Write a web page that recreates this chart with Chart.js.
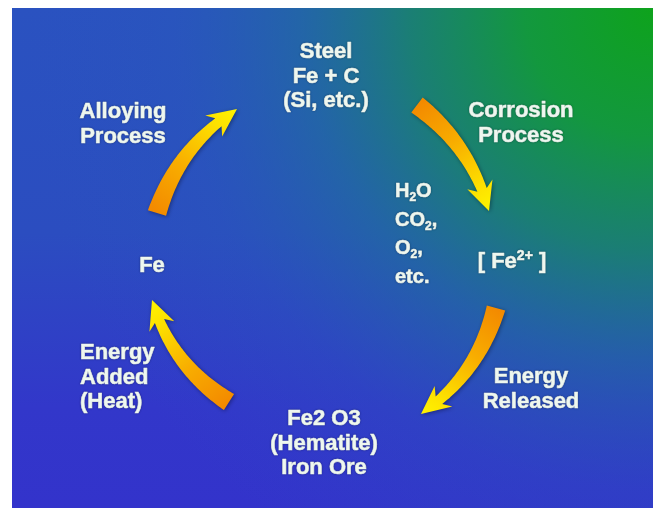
<!DOCTYPE html>
<html>
<head>
<meta charset="utf-8">
<script src="https://cdn.jsdelivr.net/npm/chart.js@4.4.1/dist/chart.umd.min.js"></script>
<style>
  html, body { margin: 0; padding: 0; background: #fff; }
  #cycle { display: block; }
</style>
</head>
<body>
<canvas id="cycle" width="656" height="510"></canvas>
<script>
// stages of the iron cycle, _x = subscript, ^{..} = superscript
const labelLines = [
    ['Steel', 'Fe + C', '(Si, etc.)'],
    ['Alloying', 'Process'],
    ['Corrosion', 'Process'],
    ['Fe'],
    ['[ Fe^{2+} ]'],
    ['Energy', 'Added', '(Heat)'],
    ['Energy', 'Released'],
    ['Fe2 O3', '(Hematite)', 'Iron Ore'],
    ['H_2O', 'CO_2,', 'O_2,', 'etc.']
];
// anchor of each label (x, baseline of first line) in picture units
const labelX = [326, 123, 521, 152, 512, 80, 531, 324, 395];
const labelY = [58, 118, 117, 272, 268, 359, 383, 425, 197];

// the four curved arrows: tail -> tip, plus how far the arc bulges out
const arrowTailX = [157, 417, 496, 229];
const arrowTailY = [213, 105, 308, 402];
const arrowTipX = [237, 489, 421, 152];
const arrowTipY = [109, 211, 414, 300];
const arrowBulge = [12, 11, 12, 12];

// coloured panel: left, top, right, bottom
const panelBox = [12, 8, 653, 508];

const leftAligned = [5, 8];   // label indexes drawn from the left edge
const listIndex = 8;          // the H2O / CO2 list uses a smaller face

function parseRich(str) {
    const parts = str.split(/(_\{[^}]*\}|_.|\^\{[^}]*\}|\^.)/).filter(s => s.length);
    return parts.map(p => {
        if (p[0] === '_') return { t: p.replace(/^_\{?|\}$/g, ''), mode: 'sub' };
        if (p[0] === '^') return { t: p.replace(/^\^\{?|\}$/g, ''), mode: 'sup' };
        return { t: p, mode: 'n' };
    });
}

function drawRich(ctx, str, x, y, size, align) {
    const segs = parseRich(str);
    const small = Math.round(size * 0.62);
    let total = 0;
    segs.forEach(s => {
        ctx.font = 'bold ' + (s.mode === 'n' ? size : small) + 'px "Liberation Sans", Arial, sans-serif';
        s.w = ctx.measureText(s.t).width;
        total += s.w;
    });
    let cx = align === 'left' ? x : x - total / 2;
    segs.forEach(s => {
        ctx.font = 'bold ' + (s.mode === 'n' ? size : small) + 'px "Liberation Sans", Arial, sans-serif';
        let dy = 0;
        if (s.mode === 'sub') dy = size * 0.22;
        if (s.mode === 'sup') dy = -size * 0.38;
        ctx.strokeText(s.t, cx, y + dy);
        ctx.fillText(s.t, cx, y + dy);
        cx += s.w;
    });
}

function drawArrow(ctx, p0, c, p2) {
    const N = 60;
    const pts = [];
    let len = 0;
    for (let i = 0; i <= N; i++) {
        const t = i / N;
        const x = (1 - t) * (1 - t) * p0.x + 2 * (1 - t) * t * c.x + t * t * p2.x;
        const y = (1 - t) * (1 - t) * p0.y + 2 * (1 - t) * t * c.y + t * t * p2.y;
        const tx = 2 * (1 - t) * (c.x - p0.x) + 2 * t * (p2.x - c.x);
        const ty = 2 * (1 - t) * (c.y - p0.y) + 2 * t * (p2.y - c.y);
        const tl = Math.hypot(tx, ty);
        if (i > 0) len += Math.hypot(x - pts[i - 1].x, y - pts[i - 1].y);
        pts.push({ x, y, ux: tx / tl, uy: ty / tl, s: len });
    }
    const headLen = 22, headW = 27, tailW = 19, neckW = 10;
    const bodyEnd = len - headLen;
    const body = pts.filter(p => p.s <= bodyEnd);
    const left = [], right = [];
    body.forEach(p => {
        const w = (tailW + (neckW - tailW) * (p.s / bodyEnd)) / 2;
        left.push([p.x - p.uy * w, p.y + p.ux * w]);
        right.push([p.x + p.uy * w, p.y - p.ux * w]);
    });
    const b = body[body.length - 1];
    const notch = 6;
    const barbL = [b.x - b.uy * headW / 2 - b.ux * notch, b.y + b.ux * headW / 2 - b.uy * notch];
    const barbR = [b.x + b.uy * headW / 2 - b.ux * notch, b.y - b.ux * headW / 2 - b.uy * notch];

    const grad = ctx.createLinearGradient(p0.x, p0.y, p2.x, p2.y);
    grad.addColorStop(0, '#f38a00');
    grad.addColorStop(0.4, '#f8ad00');
    grad.addColorStop(0.8, '#fde000');
    grad.addColorStop(1, '#fff400');

    ctx.save();
    ctx.shadowColor = 'rgba(0, 0, 20, 0.4)';
    ctx.shadowBlur = 4;
    ctx.shadowOffsetX = 1;
    ctx.shadowOffsetY = 1;
    ctx.beginPath();
    ctx.moveTo(left[0][0], left[0][1]);
    left.forEach(q => ctx.lineTo(q[0], q[1]));
    ctx.lineTo(barbL[0], barbL[1]);
    ctx.lineTo(p2.x, p2.y);
    ctx.lineTo(barbR[0], barbR[1]);
    for (let i = right.length - 1; i >= 0; i--) ctx.lineTo(right[i][0], right[i][1]);
    ctx.closePath();
    ctx.fillStyle = grad;
    ctx.fill();
    ctx.restore();
}

const cyclePlugin = {
    id: 'cycle',
    beforeDraw(chart) {
        const ctx = chart.ctx;
        ctx.save();
        ctx.fillStyle = '#ffffff';
        ctx.fillRect(0, 0, chart.width, chart.height);
        ctx.restore();
    },
    beforeDatasetsDraw(chart) {
        const { ctx, scales: { x, y } } = chart;
        const l = x.getPixelForValue(panelBox[0]), t = y.getPixelForValue(panelBox[1]);
        const r = x.getPixelForValue(panelBox[2]), b = y.getPixelForValue(panelBox[3]);
        ctx.save();
        // blue base, a little more violet toward the bottom
        const base = ctx.createLinearGradient(0, t, 0, b);
        base.addColorStop(0, '#2a52c0');
        base.addColorStop(0.45, '#2b4dc0');
        base.addColorStop(0.8, '#3237ca');
        base.addColorStop(1, '#3333cb');
        ctx.fillStyle = base;
        ctx.fillRect(l, t, r - l, b - t);
        // green glow from the top right corner
        const g = ctx.createRadialGradient(r, t, 0, r, t, 640);
        g.addColorStop(0, 'rgba(14, 163, 28, 1)');
        g.addColorStop(0.2, 'rgba(18, 154, 58, 0.97)');
        g.addColorStop(0.38, 'rgba(24, 134, 104, 0.86)');
        g.addColorStop(0.55, 'rgba(30, 114, 152, 0.6)');
        g.addColorStop(0.75, 'rgba(38, 94, 182, 0.25)');
        g.addColorStop(1, 'rgba(42, 82, 192, 0)');
        ctx.fillStyle = g;
        ctx.fillRect(l, t, r - l, b - t);
        ctx.restore();
    },
    afterDatasetsDraw(chart) {
        const { ctx, scales: { x, y } } = chart;
        // centre of the cycle, used to push each arrow's bulge outward
        const all = arrowTailX.length;
        let mx = 0, my = 0;
        for (let i = 0; i < all; i++) {
            mx += arrowTailX[i] + arrowTipX[i];
            my += arrowTailY[i] + arrowTipY[i];
        }
        mx = x.getPixelForValue(mx / (2 * all));
        my = y.getPixelForValue(my / (2 * all));

        for (let i = 0; i < all; i++) {
            const p0 = { x: x.getPixelForValue(arrowTailX[i]), y: y.getPixelForValue(arrowTailY[i]) };
            const p2 = { x: x.getPixelForValue(arrowTipX[i]), y: y.getPixelForValue(arrowTipY[i]) };
            const midX = (p0.x + p2.x) / 2, midY = (p0.y + p2.y) / 2;
            let nx = -(p2.y - p0.y), ny = p2.x - p0.x;
            const nl = Math.hypot(nx, ny);
            nx /= nl; ny /= nl;
            if ((midX - mx) * nx + (midY - my) * ny < 0) { nx = -nx; ny = -ny; }
            const bulge = arrowBulge[i] * 2;
            drawArrow(ctx, p0, { x: midX + nx * bulge, y: midY + ny * bulge }, p2);
        }

        ctx.save();
        ctx.fillStyle = '#eef7ef';
        ctx.strokeStyle = '#eef7ef';
        ctx.lineWidth = 0.7;
        ctx.lineJoin = 'round';
        ctx.textBaseline = 'alphabetic';
        ctx.textAlign = 'left';
        ctx.shadowColor = 'rgba(0, 0, 30, 0.35)';
        ctx.shadowBlur = 2;
        labelLines.forEach((lines, i) => {
            const size = i === listIndex ? 20 : 22;
            const lead = i === listIndex ? 28.5 : 24.5;
            const align = leftAligned.includes(i) ? 'left' : 'center';
            lines.forEach((line, k) => {
                drawRich(ctx, line, x.getPixelForValue(labelX[i]), y.getPixelForValue(labelY[i] + k * lead), size, align);
            });
        });
        ctx.restore();
    }
};

const ctx = document.getElementById('cycle').getContext('2d');
new Chart(ctx, {
    type: 'scatter',
    data: {
        datasets: [{
            label: 'stages',
            data: labelX.map((v, i) => ({ x: v, y: labelY[i] })),
            pointRadius: 0
        }, {
            label: 'arrow tips',
            data: arrowTipX.map((v, i) => ({ x: v, y: arrowTipY[i] })),
            pointRadius: 0
        }]
    },
    options: {
        responsive: false,
        animation: false,
        devicePixelRatio: 1,
        layout: { padding: 0 },
        plugins: { legend: { display: false }, tooltip: { enabled: false } },
        scales: {
            x: { type: 'linear', min: 0, max: 656, display: false },
            y: { type: 'linear', min: 0, max: 510, reverse: true, display: false }
        }
    },
    plugins: [cyclePlugin]
});
</script>
</body>
</html>
